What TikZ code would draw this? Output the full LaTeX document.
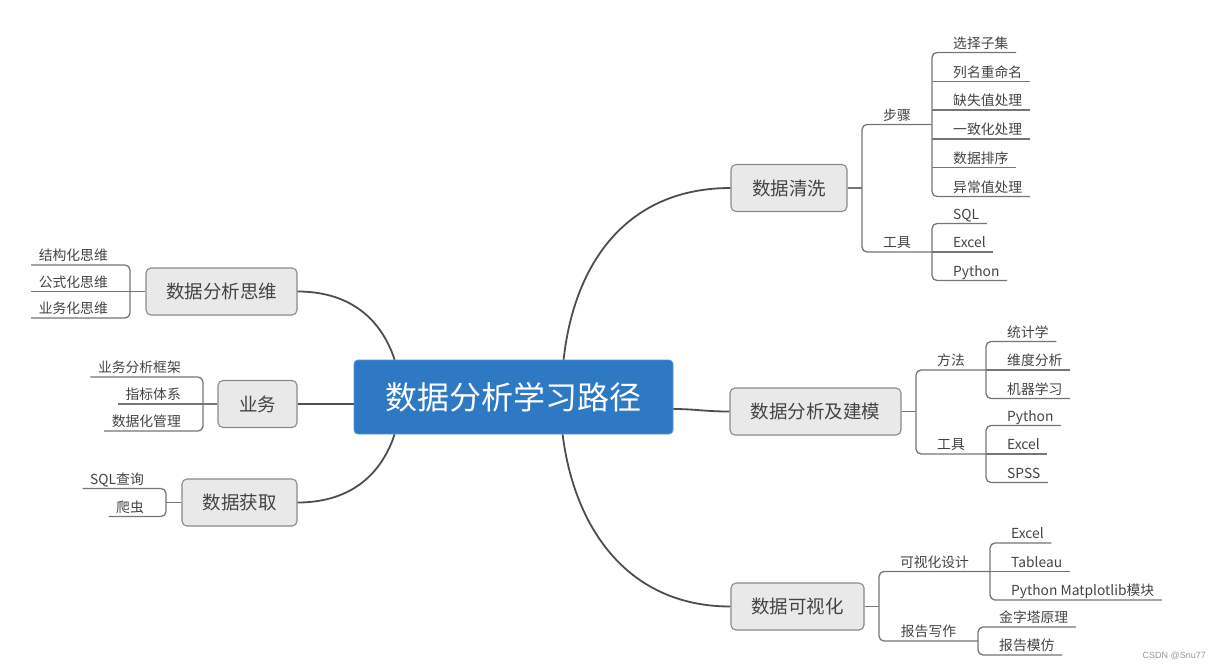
\documentclass[tikz,border=0pt]{standalone}
\usepackage{fontspec}
\setmainfont{Noto Sans CJK SC}
\newfontfamily\wmfont{Liberation Sans}
\definecolor{centerblue}{RGB}{45,121,195}
\definecolor{nodefill}{RGB}{233,233,233}
\definecolor{nodeedge}{RGB}{138,138,138}
\definecolor{txt}{RGB}{68,68,68}
\definecolor{mainline}{RGB}{78,78,78}
\definecolor{subline}{RGB}{118,118,118}
\tikzset{
 root/.style={fill=centerblue, draw=centerblue!80!white, line width=0.8pt, rounded corners=4pt, text=white,
   font=\fontsize{32}{36}\selectfont, minimum width=319pt, minimum height=74pt, inner sep=0pt},
 branch/.style={fill=nodefill, draw=nodeedge, line width=1.1pt, rounded corners=5pt, text=txt,
   font=\fontsize{18.5}{22}\selectfont, minimum height=47pt, inner sep=0pt},
 leafr/.style={anchor=south west, text=txt, font=\fontsize{13.8}{16}\selectfont,
   inner xsep=7.5pt, inner ysep=0pt, text height=11pt, text depth=4pt},
 leafl/.style={leafr, anchor=south east},
 midlabel/.style={leafr, anchor=south},
 mainconn/.style={draw=mainline, line width=1.8pt},
 subconn/.style={draw=subline, line width=1.3pt},
 barline/.style={subconn, rounded corners=5pt},
}
\begin{document}
\begin{tikzpicture}[x=1pt,y=-1pt]
\useasboundingbox (0,0) rectangle (1230,670);
\fill[white] (0,0) rectangle (1230,670);

% root and branches
\node[root] (root) at (513.5,397) {数据分析学习路径};
\node[branch, minimum width=116pt] (clean) at (789,188) {数据清洗};
\node[branch, minimum width=171pt] (model) at (815.5,411.5) {数据分析及建模};
\node[branch, minimum width=133pt] (viz) at (797.5,606.5) {数据可视化};
\node[branch, minimum width=151pt] (think) at (221.5,291.5) {数据分析思维};
\node[branch, minimum width=79pt] (biz) at (257.5,404) {业务};
\node[branch, minimum width=115pt] (acq) at (239.5,502.5) {数据获取};

% main connectors
\draw[mainconn] ([xshift=210pt]root.north west) .. controls +(11,-100) and +(-101,0) .. (clean.west);
\draw[mainconn] (root.east |- 0,409) .. controls +(22,0) and +(-25,0) .. (model.west);
\draw[mainconn] ([xshift=209pt]root.south west) .. controls +(12,96) and +(-101,0) .. (viz.west);
\draw[mainconn] ([xshift=41pt]root.north west) .. controls +(-15,-45) and +(48,0) .. (think.east);
\draw[mainconn] (root.west |- biz.east) -- (biz.east);
\draw[mainconn] ([xshift=41pt]root.south west) .. controls +(-15,45) and +(48,0) .. (acq.east);

% ---------- 数据清洗 ----------
\coordinate (cb) at (862,188);
\draw[subconn] (clean.east) -- (cb);
\node[midlabel] (steps) at (897,124.5) {步骤};
\node[midlabel] (tools1) at (897,252) {工具};
\draw[barline] (932,124.5) -- (862,124.5) -- (862,252) -- (932,252);
\node[leafr] (s1) at (945.5,52.5) {选择子集};
\node[leafr] (s2) at (945.5,81.3) {列名重命名};
\node[leafr] (s3) at (945.5,110.1) {缺失值处理};
\node[leafr] (s4) at (945.5,138.9) {一致化处理};
\node[leafr] (s5) at (945.5,167.7) {数据排序};
\node[leafr] (s6) at (945.5,196.5) {异常值处理};
\draw[barline] (s1.south east) -- (932,52.5) -- (932,196.5) -- (s6.south east);
\draw[subconn] (932,81.3) -- (s2.south east);
\draw[subconn] (932,110.1) -- (s3.south east);
\draw[subconn] (932,138.9) -- (s4.south east);
\draw[subconn] (932,167.7) -- (s5.south east);
\node[leafr] (t1) at (945.5,223.5) {SQL};
\node[leafr] (t2) at (945.5,252) {Excel};
\node[leafr] (t3) at (945.5,280.5) {Python};
\draw[barline] (t1.south east) -- (932,223.5) -- (932,280.5) -- (t3.south east);
\draw[subconn] (932,252) -- (t2.south east);

% ---------- 数据分析及建模 ----------
\coordinate (mb) at (916,411.5);
\draw[subconn] (model.east) -- (mb);
\node[midlabel] (method) at (951,370) {方法};
\node[midlabel] (tools2) at (951,454) {工具};
\draw[barline] (986,370) -- (916,370) -- (916,454) -- (986,454);
\node[leafr] (m1) at (999.5,341.5) {统计学};
\node[leafr] (m2) at (999.5,370) {维度分析};
\node[leafr] (m3) at (999.5,398.5) {机器学习};
\draw[barline] (m1.south east) -- (986,341.5) -- (986,398.5) -- (m3.south east);
\draw[subconn] (986,370) -- (m2.south east);
\node[leafr] (u1) at (999.5,425.5) {Python};
\node[leafr] (u2) at (999.5,454) {Excel};
\node[leafr] (u3) at (999.5,482.5) {SPSS};
\draw[barline] (u1.south east) -- (986,425.5) -- (986,482.5) -- (u3.south east);
\draw[subconn] (986,454) -- (u2.south east);

% ---------- 数据可视化 ----------
\coordinate (vb) at (879,606.5);
\draw[subconn] (viz.east) -- (vb);
\node[midlabel] (design) at (934.5,571.5) {可视化设计};
\node[midlabel] (report) at (928.5,641) {报告写作};
\draw[barline] (990,571.5) -- (879,571.5) -- (879,641) -- (978,641);
\node[leafr] (d1) at (1003.5,543) {Excel};
\node[leafr] (d2) at (1003.5,571.5) {Tableau};
\node[leafr] (d3) at (1003.5,600) {Python Matplotlib模块};
\draw[barline] (d1.south east) -- (990,543) -- (990,600) -- (d3.south east);
\draw[subconn] (990,571.5) -- (d2.south east);
\node[leafr] (r1) at (991.5,627) {金字塔原理};
\node[leafr] (r2) at (991.5,655) {报告模仿};
\draw[barline] (r1.south east) -- (978,627) -- (978,655) -- (r2.south east);

% ---------- 数据分析思维 ----------
\coordinate (kb) at (130,291.5);
\draw[subconn] (think.west) -- (kb);
\node[leafl] (k1) at (115.5,265) {结构化思维};
\node[leafl] (k2) at (115.5,291.5) {公式化思维};
\node[leafl] (k3) at (115.5,318) {业务化思维};
\draw[barline] (k1.south west) -- (130,265) -- (130,318) -- (k3.south west);
\draw[subconn] (130,291.5) -- (k2.south west);

% ---------- 业务 ----------
\coordinate (bb) at (203,404);
\draw[subconn] (biz.west) -- (bb);
\node[leafl] (b1) at (188.5,377) {业务分析框架};
\node[leafl] (b2) at (188.5,404) {指标体系};
\node[leafl] (b3) at (188.5,431) {数据化管理};
\draw[barline] (b1.south west) -- (203,377) -- (203,431) -- (b3.south west);
\draw[subconn] (203,404) -- (b2.south west);

% ---------- 数据获取 ----------
\coordinate (ab) at (166,502.5);
\draw[subconn] (acq.west) -- (ab);
\node[leafl] (a1) at (151.5,488.5) {SQL查询};
\node[leafl] (a2) at (151.5,516.5) {爬虫};
\draw[barline] (a1.south west) -- (166,488.5) -- (166,516.5) -- (a2.south west);

% watermark
\node[font=\wmfont\fontsize{9}{10}\selectfont, text=black!40, anchor=east, inner sep=0pt] (wm) at (1206,656) {CSDN @Snu77};
\end{tikzpicture}
\end{document}
